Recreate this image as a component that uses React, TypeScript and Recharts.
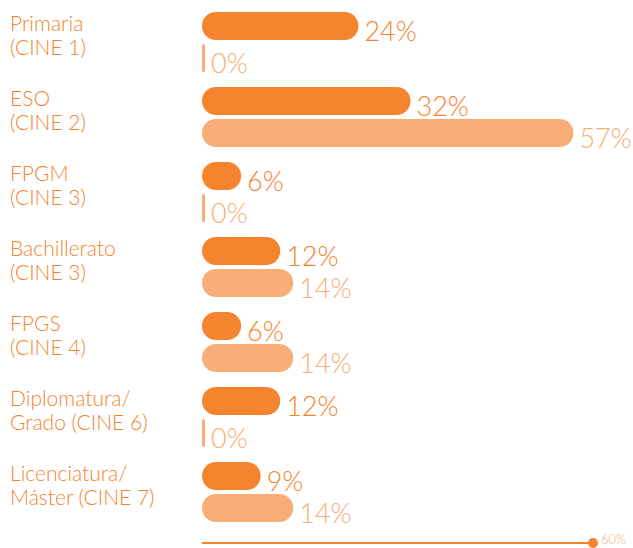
import React from "react";
import { BarChart, Bar, XAxis, YAxis, LabelList } from "recharts";

const categories = [
  "Primaria\n(CINE 1)",
  "ESO\n(CINE 2)",
  "FPGM\n(CINE 3)",
  "Bachillerato\n(CINE 3)",
  "FPGS\n(CINE 4)",
  "Diplomatura/\nGrado (CINE 6)",
  "Licenciatura/\nMáster (CINE 7)",
];
const serieA = [24, 32, 6, 12, 6, 12, 9];
const serieB = [0, 57, 0, 14, 14, 0, 14];
const axisTicks = [60];

const DARK = "#F4842E";
const LIGHT = "#F8AE76";
const FONT = "Lato, 'Open Sans', sans-serif";

const data = categories.map((c, i) => ({ cat: c, a: serieA[i], b: serieB[i] }));

function CatTick(props: any) {
  const { y, payload } = props;
  const lines = String(payload.value).split("\n");
  return (
    <g>
      {lines.map((l, i) => (
        <text
          key={i}
          x={10}
          y={y - 11 + i * 24}
          fill={DARK}
          fontSize={21}
          fontWeight={300}
          fontFamily={FONT}
          textAnchor="start"
        >
          {l}
        </text>
      ))}
    </g>
  );
}

function EndTick(props: any) {
  const { x, y, payload } = props;
  return (
    <g>
      <circle cx={x} cy={y} r={5} fill={DARK} />
      <text x={x + 8} y={y + 1} fill={LIGHT} fontSize={13} fontWeight={300} fontFamily={FONT}>
        {payload.value}%
      </text>
    </g>
  );
}

function valueLabel(color: string) {
  return (props: any) => {
    const { x, y, width, height, value } = props;
    return (
      <text
        x={x + width + 6}
        y={y + height + 1}
        fill={color}
        fontSize={27}
        fontWeight={300}
        fontFamily={FONT}
      >
        {value}%
      </text>
    );
  };
}

export default function App() {
  return (
    <div style={{ position: "absolute", left: 0, top: 0, width: 633, height: 548, background: "#fff" }}>
      <BarChart
        width={633}
        height={548}
        data={data}
        layout="vertical"
        margin={{ top: 4, right: 40, bottom: 4, left: 0 }}
        barSize={28}
        barGap={4}
      >
        <XAxis
          type="number"
          domain={[0, 60]}
          ticks={axisTicks}
          height={1}
          axisLine={{ stroke: DARK, strokeWidth: 2 }}
          tickLine={false}
          tickSize={0}
          tickMargin={0}
          tick={<EndTick />}
        />
        <YAxis
          type="category"
          dataKey="cat"
          width={202}
          axisLine={false}
          tickLine={false}
          padding={{ top: 0, bottom: 14 }}
          tick={<CatTick />}
        />
        <Bar dataKey="a" fill={DARK} radius={14} minPointSize={3} isAnimationActive={false}>
          <LabelList dataKey="a" content={valueLabel(DARK)} />
        </Bar>
        <Bar dataKey="b" fill={LIGHT} radius={14} minPointSize={3} isAnimationActive={false}>
          <LabelList dataKey="b" content={valueLabel(LIGHT)} />
        </Bar>
      </BarChart>
    </div>
  );
}
